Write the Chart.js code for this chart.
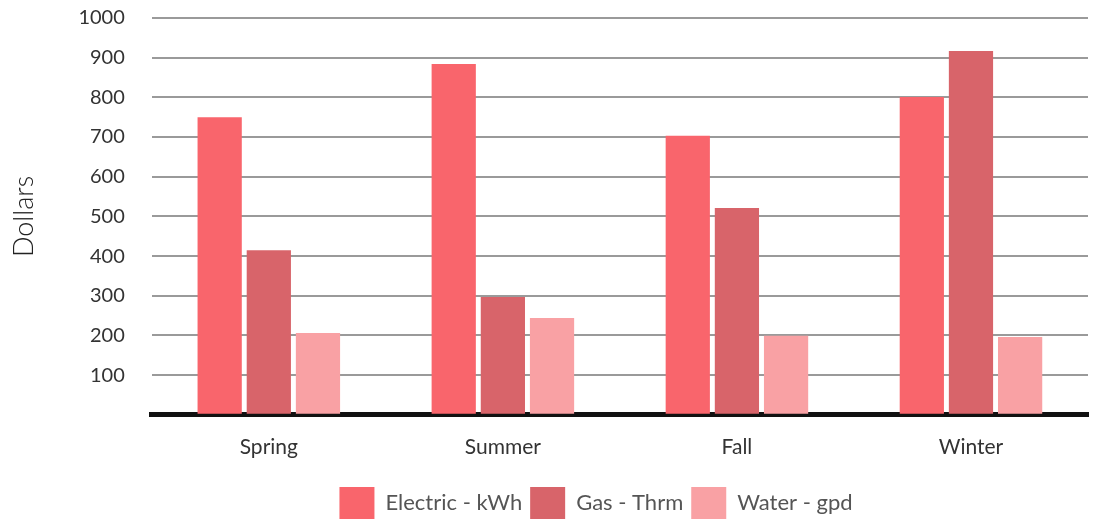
<!DOCTYPE html>
<html>
<head>
<meta charset="utf-8">
<script src="https://cdn.jsdelivr.net/npm/chart.js@4/dist/chart.umd.min.js"></script>
<style>
  html, body { margin: 0; padding: 0; background: #fff; }
  #wrap { width: 1099px; height: 520px; }
</style>
</head>
<body>
<div id="wrap"><canvas id="my-chart"></canvas></div>
<script>
'use strict';

let seasons = ['Spring', 'Summer', 'Fall', 'Winter'];
let electricVals = [750, 884, 703, 801];
let gasVals = [415, 297, 521, 917];
let waterVals = [206, 244, 199, 196];
let seriesNames = ['Electric - kWh', 'Gas - Thrm', 'Water - gpd'];

let canvasElem = document.getElementById('my-chart');

// nudge the bottom legend to the right, like the original
let legendShift = {
  id: 'legendShift',
  afterLayout(chart) {
    chart.legend.left += 48;
    chart.legend.right += 48;
  }
};

function renderChart() {
  Chart.defaults.font.family = 'Lato, "Open Sans", sans-serif';

  let chartObj = {
    type: 'bar',
    data: {
      labels: seasons,
      datasets: [{
        label: seriesNames[0],
        data: electricVals,
        backgroundColor: '#f9656c'
      },
      {
        label: seriesNames[1],
        data: gasVals,
        backgroundColor: '#d8646a'
      },
      {
        label: seriesNames[2],
        data: waterVals,
        backgroundColor: '#f9a1a4'
      }]
    },
    options: {
      responsive: true,
      maintainAspectRatio: false,
      animation: false,
      barPercentage: 0.9,
      categoryPercentage: 0.63,
      layout: { padding: { top: 18, right: 11, left: 8, bottom: -9 } },
      scales: {
        y: {
          min: 0,
          max: 1000,
          ticks: {
            stepSize: 100,
            color: '#333',
            padding: 27,
            font: { size: 20 },
            callback: (v) => (v === 0 ? '' : v)
          },
          grid: { color: '#9a9a9a', lineWidth: 2, drawTicks: false },
          border: { display: false },
          title: {
            display: true,
            text: 'Dollars',
            color: '#222',
            font: { size: 27, weight: '300' },
            padding: { top: 0, bottom: 11 }
          },
          // tick padding would otherwise push the plot down
          afterFit: (s) => { s.paddingTop = 0; s.paddingBottom = 0; }
        },
        x: {
          ticks: { color: '#333', font: { size: 21 }, padding: 12 },
          grid: { display: false },
          border: { display: true, color: '#111', width: 5 },
          afterFit: (s) => { s.height += 7; }
        }
      },
      plugins: {
        legend: {
          position: 'bottom',
          labels: {
            color: '#555',
            boxWidth: 35,
            boxHeight: 32,
            padding: 8,
            font: { size: 22 }
          }
        },
        tooltip: { enabled: false }
      }
    },
    plugins: [legendShift]
  };

  new Chart(canvasElem, chartObj); //eslint-disable-line
}

renderChart();
</script>
</body>
</html>
